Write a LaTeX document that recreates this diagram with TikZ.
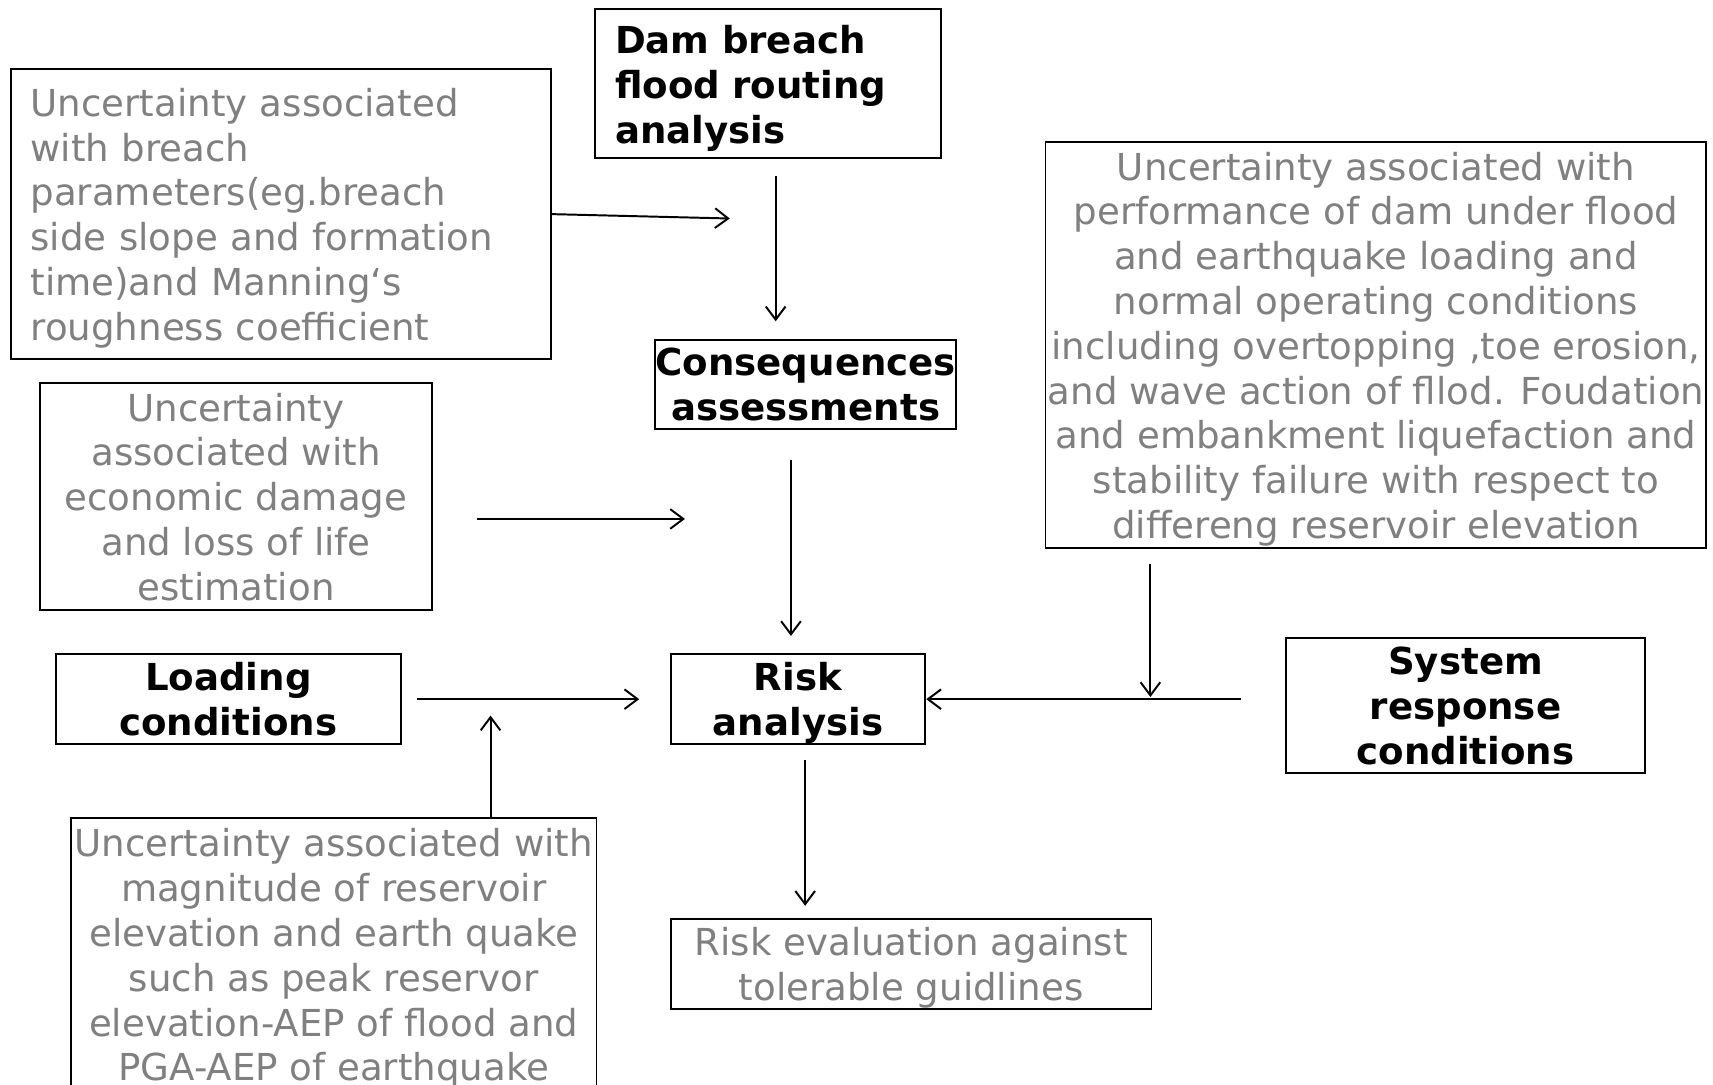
\documentclass[tikz,border=0pt]{standalone}
\usepackage{fontspec}
\setmainfont{DejaVu Sans}
\usetikzlibrary{arrows.meta}
\definecolor{txtgray}{RGB}{128,128,128}
\begin{document}
\begin{tikzpicture}[x=1pt,y=-1pt,
  box/.style={draw, line width=1.8pt, inner sep=0pt, align=center, text depth=-3pt,
    font=\fontsize{34}{41}\selectfont},
  boldbox/.style={box, font=\fontsize{34}{41}\selectfont\bfseries},
  graybox/.style={box, text=txtgray},
  arr/.style={-{Straight Barb[length=12pt,width=18pt]}, line width=1.8pt}]
\useasboundingbox (0,0) rectangle (1568,993);
\clip (0,0) rectangle (1568,993);
\fill[white] (0,0) rectangle (1568,993);

% nodes
\node[graybox, minimum width=494pt, minimum height=266pt, text width=458pt,
  align=left, inner xsep=18pt, text depth=205pt] (A) at (257,196)
  {Uncertainty associated\\with breach\\parameters(eg.breach\\side slope and formation\\time)and Manning‘s\\roughness coefficient};
\node[boldbox, minimum width=316pt, minimum height=137pt, text width=280pt,
  align=left, inner xsep=18pt, text depth=80pt] (B) at (703,76.5)
  {Dam breach\\flood routing\\analysis};
\node[boldbox, minimum width=275pt, minimum height=82pt] (C) at (737.5,352)
  {Consequences\\assessments};
\node[graybox, minimum width=605pt, minimum height=372pt] (D) at (1259.5,316)
  {Uncertainty associated with\\performance of dam under flood\\and earthquake loading and\\normal operating conditions\\including overtopping ,toe erosion,\\and wave action of fllod. Foudation\\and embankment liquefaction and\\stability failure with respect to\\differeng reservoir elevation};
\node[graybox, minimum width=358pt, minimum height=207pt] (E) at (216,454.5)
  {Uncertainty\\associated with\\economic damage\\and loss of life\\estimation};
\node[boldbox, minimum width=316pt, minimum height=82pt] (F) at (209,640)
  {Loading\\conditions};
\node[boldbox, minimum width=233pt, minimum height=82pt] (G) at (730.5,640)
  {Risk\\analysis};
\node[boldbox, minimum width=329pt, minimum height=124pt] (H) at (1341.5,646)
  {System\\response\\conditions};
\node[graybox, minimum width=481pt, minimum height=250pt] (I) at (305.5,874)
  {Uncertainty associated with\\magnitude of reservoir\\elevation and earth quake\\such as peak reservor\\elevation-AEP of flood and\\PGA-AEP of earthquake};
\node[graybox, minimum width=440pt, minimum height=83pt] (J) at (834,882.5)
  {Risk evaluation against\\tolerable guidlines};

% free connector ends
\coordinate (a1e) at (668,200);
\coordinate (e1) at (437,475);
\coordinate (e2) at (627,475);
\coordinate (i2) at (449,655);
\coordinate (h1) at (1136,640);
\coordinate (d1) at (1053,516);
\coordinate (d2) at (1053,638);

% connectors
\draw[arr] (A.east) -- (a1e);
\draw[arr, shorten <=15pt, shorten >=16pt] ([xshift=7pt]B.south) -- ([xshift=7pt]B.south |- C.north);
\draw[arr] (e1) -- (e2);
\draw[arr, shorten <=27pt, shorten >=16pt] ([xshift=-13.5pt]C.south) -- ([xshift=-13.5pt]C.south |- G.north);
\draw[arr, shorten <=14pt, shorten >=28pt] (F.east) -- (G.west);
\draw[arr] (I.north -| i2) -- (i2);
\draw[arr] (h1) -- (G.east);
\draw[arr] (d1) -- (d2);
\draw[arr, shorten <=14pt, shorten >=11pt] ([xshift=6.5pt]G.south) -- ([xshift=6.5pt]G.south |- J.north);
\end{tikzpicture}
\end{document}
